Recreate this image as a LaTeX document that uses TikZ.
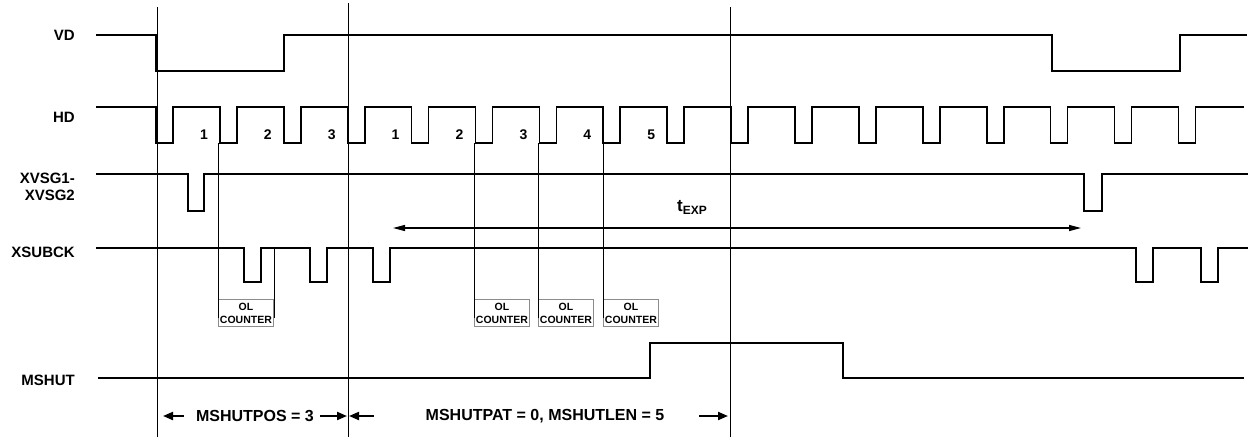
\documentclass[tikz,border=0pt]{standalone}
\usepackage{fontspec}
\setmainfont{Liberation Sans}
\usepackage{xcolor}
\usepackage{tikz}
\usetikzlibrary{
  arrows.meta,
  positioning,
  calc
}
\definecolor{BoxGray}{HTML}{8C8C8C}
\tikzset{
  signal/.style={
    line width=1.7pt,
    line join=miter
  },
  guide/.style={
    line width=1pt
  },
  siglabel/.style={
    anchor=east,
    align=right,
    inner sep=0pt,
    font=\fontsize{15}{17}\selectfont\bfseries
  },
  hdnum/.style={
    inner sep=0pt,
    font=\fontsize{14}{16}\selectfont\bfseries
  },
  olbox/.style={
    draw=BoxGray,
    line width=0.8pt,
    anchor=north west,
    minimum width=55pt,
    minimum height=27pt,
    inner sep=0pt,
    align=center,
    font=\fontsize{10.5}{13}\selectfont\bfseries
  },
  spantext/.style={
    inner sep=0pt,
    font=\fontsize{16}{18}\selectfont\bfseries
  },
  spanarrow/.style={
    -{Triangle[length=10pt,width=8pt]},
    line width=2pt
  },
  exparrow/.style={
    {Triangle[length=12pt,width=6pt]}-{Triangle[length=12pt,width=6pt]},
    line width=1.3pt
  }
}

\begin{document}
\begin{tikzpicture}[x=1pt,y=-1pt]

  \useasboundingbox (0,0) rectangle (1249,440);

  \node[siglabel] (vd) at (75,35) {VD};
  \node[siglabel] (hd) at (75,117) {HD};
  \node[siglabel] (xvsg) at (75,187) {XVSG1-\\XVSG2};
  \node[siglabel] (xsubck) at (75,252) {XSUBCK};
  \node[siglabel] (mshut) at (75,380) {MSHUT};

  \foreach \x/\ya in {157/7,348/3,730/7} {
    \draw[guide]
    (\x,\ya) --
    (\x,437);
  }

  \draw[signal]
  (96,35) -- (156,35) -- (156,71) -- (284,71) -- (284,35) --
  (1052,35) -- (1052,71) -- (1180,71) -- (1180,35) -- (1247,35);

  \draw[signal]
  (96,107)
  foreach \k in {0,...,16} {
    -- ({156+63.9*\k},107) -- ++(0,36) -- ++(17,0) -- ++(0,-36)
  }
  -- (1244,107);

  \foreach \k/\n in {1/1,2/2,3/3,4/1,5/2,6/3,7/4,8/5} {
    \node[hdnum] (num\k) at ({156+63.9*\k-16},135) {\n};
  }

  \draw[signal]
  (96,174) -- (188,174) -- ++(0,37) -- ++(16,0) -- ++(0,-37) --
  (1084,174) -- ++(0,37) -- ++(18,0) -- ++(0,-37) -- (1248,174);

  \draw[signal]
  (96,248)
  foreach \p in {244,310,373,1136,1201} {
    -- (\p,248) -- ++(0,34) -- ++(17,0) -- ++(0,-34)
  }
  -- (1248,248);

  \draw[signal]
  (98,378) -- (650,378) -- (650,343) -- (843,343) -- (843,378) -- (1244,378);

  \foreach \x/\name in {218/olA,474/olB,538/olC,603/olD} {
    \node[olbox] (\name) at (\x,299) {OL\\COUNTER};
  }

  \foreach \x in {218,474,538,603} {
    \draw[guide]
    (\x,143) --
    (\x,318);
  }
  \draw[guide]
  (274,248) --
  (274,318);

  \coordinate (expL) at (393,228);
  \coordinate (expR) at (1081,228);
  \draw[exparrow] (expL) -- (expR);
  \node[inner sep=0pt] (texp) at (692,207) {%
    \fontsize{17}{19}\selectfont\bfseries t\raisebox{-3pt}{\fontsize{12}{14}\selectfont EXP}};

  \node[spantext] (pos) at (255,416) {MSHUTPOS = 3};
  \node[spantext] (patlen) at (545,416) {MSHUTPAT = 0, MSHUTLEN = 5};

  \coordinate (posL) at (163,416);
  \coordinate (posR) at (347,416);
  \coordinate (patL) at (349,416);
  \coordinate (patR) at (728,416);

  \draw[spanarrow] ([xshift=-12pt]pos.west) -- (posL);
  \draw[spanarrow] ([xshift=6pt]pos.east) -- (posR);
  \draw[spanarrow] ([xshift=-52pt]patlen.west) -- (patL);
  \draw[spanarrow] ([xshift=35pt]patlen.east) -- (patR);

\end{tikzpicture}
\end{document}
